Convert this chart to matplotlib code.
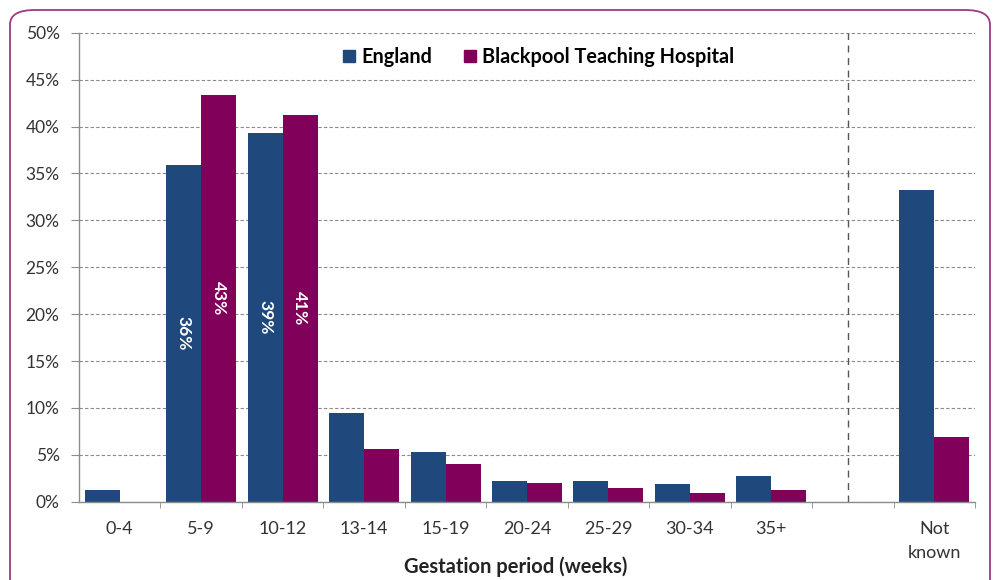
import numpy as np
import matplotlib
matplotlib.use('Agg')
import matplotlib.pyplot as plt
from matplotlib.patches import FancyBboxPatch, Patch

plt.rcParams['font.family'] = ['Lato', 'DejaVu Sans']

categories = ['0-4', '5-9', '10-12', '13-14', '15-19', '20-24', '25-29', '30-34', '35+', '', 'Not\nknown']
england = [1.2, 35.9, 39.3, 9.5, 5.3, 2.2, 2.2, 1.85, 2.7, np.nan, 33.2]
blackpool = [0.0, 43.4, 41.2, 5.6, 4.0, 2.0, 1.5, 0.9, 1.2, np.nan, 6.9]
series_names = ['England', 'Blackpool Teaching Hospital']

blue = '#1f497d'
purple = '#80005a'
grey = '#8c8c8c'

fig = plt.figure(figsize=(9.95, 5.8), dpi=100)
ax = fig.add_axes([79 / 995, 78.3 / 580, 896 / 995, 469 / 580])

x = np.arange(len(categories))
w = 0.43
b1 = ax.bar(x - w / 2, england, w, color=blue)
b2 = ax.bar(x + w / 2, blackpool, w, color=purple)

# value labels only on the two big groups
for bars, vals in ((b1, england), (b2, blackpool)):
    for i, (rect, v) in enumerate(zip(bars, vals)):
        if i < 9 and v > 30:
            ax.text(rect.get_x() + rect.get_width() / 2, v / 2, f'{v:.0f}%',
                    rotation=270, ha='center', va='center', color='white',
                    fontsize=12.5, fontweight='bold')

ax.set_xlim(-0.5, len(categories) - 0.5)
ax.set_ylim(0, 50)
ax.set_yticks(np.arange(0, 51, 5))
ax.set_yticklabels([f'{v}%' for v in range(0, 51, 5)])
ax.set_xticks(x)
ax.set_xticklabels(categories, linespacing=1.6, va='top')
ax.set_xticks(np.arange(0.5, len(categories), 1), minor=True)
ax.tick_params(axis='x', which='major', length=0, pad=14, labelsize=13, colors='#333333')
ax.tick_params(axis='x', which='minor', length=4.5, color=grey, direction='out')
ax.tick_params(axis='y', length=6, labelsize=12.5, colors='#333333', pad=8)
ax.tick_params(axis='y', color=grey)

ax.yaxis.grid(True, linestyle=(0, (3, 2)), color='#8a8a8a', linewidth=0.8)
ax.set_axisbelow(True)
for s in ('top', 'right'):
    ax.spines[s].set_visible(False)
for s in ('left', 'bottom'):
    ax.spines[s].set_color(grey)
    ax.spines[s].set_linewidth(1.0)

ax.axvline(8.94, color='#555555', linestyle=(0, (5, 4)), linewidth=1.0)

handles = [Patch(color=blue), Patch(color=purple)]
ax.legend(handles, series_names, loc='center', bbox_to_anchor=(0.513, 0.948), ncol=2,
          frameon=False, handlelength=0.6, handleheight=0.6, handletextpad=0.3,
          columnspacing=1.6, prop={'weight': 'bold', 'size': 14.3})

fig.text(516 / 995, 3 / 580, 'Gestation period (weeks)', ha='center', va='bottom',
         fontsize=14.5, fontweight='bold', color='#222222')

border = FancyBboxPatch((10 / 995, -0.05), 980 / 995, 0.05 + 570 / 580,
                        boxstyle='round,pad=0,rounding_size=0.025',
                        transform=fig.transFigure, fill=False,
                        edgecolor='#9b3b84', linewidth=1.3)
fig.patches.append(border)

fig.savefig('out.png', dpi=100)
